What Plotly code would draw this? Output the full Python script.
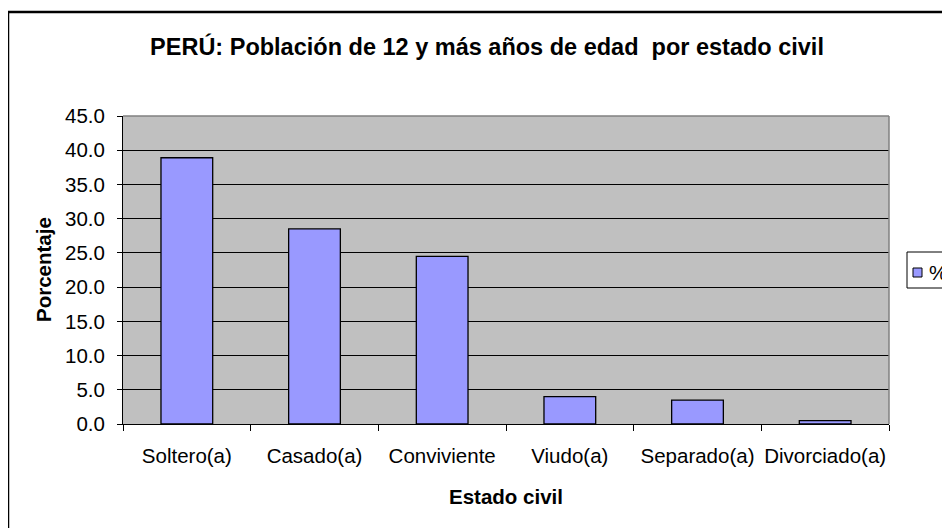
import plotly.graph_objects as go

# Datos: población de 12 y más años por estado civil (%)
categorias = ["Soltero(a)", "Casado(a)", "Conviviente", "Viudo(a)", "Separado(a)", "Divorciado(a)"]
porcentajes = [38.9, 28.5, 24.5, 4.0, 3.5, 0.5]
y_ticks = [0, 5, 10, 15, 20, 25, 30, 35, 40, 45]
serie = "%"

FONT = "Arial, Liberation Sans, sans-serif"
BAR_COLOR = "#9999FF"


def px_x(sx):
    # posición horizontal en pantalla -> coordenada "paper"
    return (sx - 123) / 766


def px_y(sy):
    return (424 - sy) / 308


fig = go.Figure()
fig.add_trace(go.Bar(
    x=categorias,
    y=porcentajes,
    name=serie,
    marker=dict(color=BAR_COLOR, line=dict(color="black", width=1.3)),
    showlegend=False,
))

# la página añade 8 px de margen al cuerpo: la figura se reduce y se desplaza
W, H = 942, 520
fig.update_layout(
    width=W,
    height=H,
    margin=dict(l=115, r=61, t=108, b=H - 416, autoexpand=False),
    paper_bgcolor="white",
    plot_bgcolor="#C0C0C0",
    font=dict(family=FONT, size=20, color="black"),
    bargap=0.595,
    title=dict(
        text="<b>PERÚ: Población de 12 y más años de edad  por estado civil</b>",
        x=479 / W, xanchor="center", y=1 - 39 / H, yanchor="middle",
        font=dict(family=FONT, size=23.5, color="black"),
    ),
    xaxis=dict(
        showgrid=False,
        showline=True, linecolor="black", linewidth=1,
        ticks="outside", tickson="boundaries", ticklen=6, tickcolor="black",
        ticklabelstandoff=13, tickangle=0,
        tickfont=dict(size=20.5),
    ),
    yaxis=dict(
        range=[0, 45],
        tickvals=y_ticks,
        tickformat=".1f",
        showgrid=True, gridcolor="black", gridwidth=1,
        zeroline=False,
        showline=True, linecolor="black", linewidth=1,
        ticks="outside", ticklen=5, tickcolor="black",
        ticklabelstandoff=8,
        tickfont=dict(size=20.5),
    ),
    annotations=[
        dict(text="<b>Porcentaje</b>", xref="paper", yref="paper",
             x=px_x(43), y=0.5, textangle=-90,
             showarrow=False, xanchor="center", yanchor="middle",
             font=dict(family=FONT, size=20.5)),
        dict(text="<b>Estado civil</b>", xref="paper", yref="paper",
             x=0.5, y=px_y(497),
             showarrow=False, xanchor="center", yanchor="middle",
             font=dict(family=FONT, size=20.5)),
        # texto de la leyenda
        dict(text=serie, xref="paper", yref="paper",
             x=px_x(927), y=px_y(272.5),
             showarrow=False, xanchor="left", yanchor="middle",
             font=dict(family=FONT, size=20.5)),
    ],
    shapes=[
        # borde gris superior y derecho del área de trazado
        dict(type="line", xref="paper", yref="paper", x0=0, x1=1, y0=1, y1=1,
             line=dict(color="#808080", width=1.5), layer="above"),
        dict(type="line", xref="paper", yref="paper", x0=1, x1=1, y0=0, y1=1,
             line=dict(color="#808080", width=1.5), layer="above"),
        # marco exterior del gráfico
        dict(type="rect", xref="paper", yref="paper",
             x0=px_x(8), x1=2, y0=-1, y1=px_y(12),
             line=dict(color="black", width=2.5), layer="below"),
        # caja de la leyenda y su símbolo
        dict(type="rect", xref="paper", yref="paper",
             x0=px_x(907), x1=px_x(1000), y0=px_y(288), y1=px_y(252),
             line=dict(color="black", width=1), fillcolor="white", layer="above"),
        dict(type="rect", xref="paper", yref="paper",
             x0=px_x(913), x1=px_x(922), y0=px_y(277), y1=px_y(268),
             line=dict(color="black", width=1), fillcolor=BAR_COLOR, layer="above"),
    ],
)

fig.write_html("out.html")
